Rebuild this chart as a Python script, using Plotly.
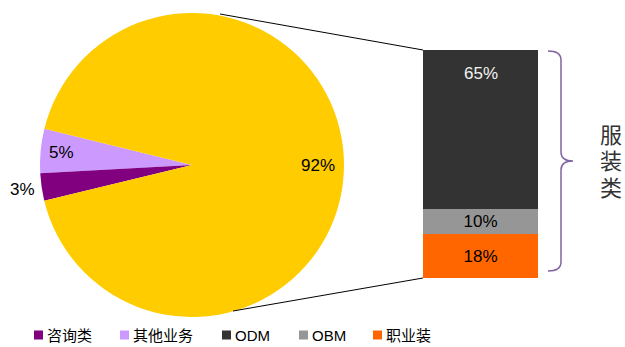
import math
import plotly.graph_objects as go

W, H = 625, 347

# ---- data ----
pie_labels = ['其他业务', '咨询类', '服装类']
pie_values = [4.7, 2.9, 92.4]
pie_text = ['5%', '3%', '92%']
pie_colors = ['#CC99FF', '#800080', '#FFCC00']

bar_labels = ['职业装', 'OBM', 'ODM']
bar_values = [18, 10, 65]
bar_text = ['18%', '10%', '65%']
bar_colors = ['#FF6600', '#969696', '#333333']
bar_text_colors = ['#000000', '#000000', '#F2F2F2']

legend_labels = ['咨询类', '其他业务', 'ODM', 'OBM', '职业装']
legend_colors = ['#800080', '#CC99FF', '#333333', '#969696', '#FF6600']

brace_label = '服装类'

FONT = 'Liberation Sans, Arial, Noto Sans CJK SC'

# ---- geometry (pixels) ----
cx, cy, R = 192, 165, 152
start_angle = -76.2   # where the first slice begins (deg, clockwise from 12 o'clock)
bar_x0, bar_x1, bar_top, bar_bot = 423, 538, 50, 278

tot = sum(pie_values)
first_span = pie_values[0] / tot * 360
# plotly (counterclockwise) places the first slice clockwise of `rotation`
plotly_rotation = start_angle - first_span

fig = go.Figure()

fig.add_trace(go.Pie(
    labels=pie_labels, values=pie_values, sort=False,
    direction='counterclockwise', rotation=plotly_rotation,
    marker=dict(colors=pie_colors, line=dict(width=0)),
    textinfo='none', hoverinfo='label+percent', showlegend=False,
    domain=dict(x=[(cx - R) / W, (cx + R) / W],
                y=[(H - cy - R) / H, (H - cy + R) / H]),
))

total_bar = sum(bar_values)
for lab, v, t, c, tc in zip(bar_labels, bar_values, bar_text, bar_colors, bar_text_colors):
    fig.add_trace(go.Bar(
        x=[0], y=[v], width=1, name=lab, marker=dict(color=c, line=dict(width=0)),
        text=[t] if lab != 'ODM' else None,
        textposition='inside', insidetextanchor='middle', constraintext='none',
        textfont=dict(family=FONT, size=17, color=tc),
        xaxis='x2', yaxis='y2', showlegend=False,
    ))

# overlay pixel axis for decorations
fig.add_trace(go.Scatter(x=[0], y=[0], mode='markers', marker=dict(opacity=0),
                         xaxis='x3', yaxis='y3', showlegend=False, hoverinfo='skip'))

annotations = []
shapes = []

# pie labels from slice mid-angles
radius_factor = [0.865, 1.13, 0.83]
a = start_angle
for v, t, rf in zip(pie_values, pie_text, radius_factor):
    span = v / tot * 360
    mid = math.radians(a - span / 2)
    a -= span
    px = cx + rf * R * math.sin(mid)
    py = cy - rf * R * math.cos(mid)
    annotations.append(dict(x=px, y=py, xref='x3', yref='y3', text=t, showarrow=False,
                            font=dict(family=FONT, size=17, color='#000000')))

# ODM label near top of bar
px_per_unit = (bar_bot - bar_top) / total_bar
annotations.append(dict(x=0, y=total_bar - 23 / px_per_unit, xref='x2', yref='y2',
                        text=bar_text[2], showarrow=False,
                        font=dict(family=FONT, size=17, color=bar_text_colors[2])))

# connector lines
shapes.append(dict(type='line', xref='x3', yref='y3', x0=220, y0=14, x1=bar_x0, y1=bar_top,
                   line=dict(color='#000000', width=1)))
shapes.append(dict(type='line', xref='x3', yref='y3', x0=233, y0=311, x1=bar_x0, y1=bar_bot,
                   line=dict(color='#000000', width=1)))

# brace
shapes.append(dict(type='path', xref='x3', yref='y3',
                   path='M 548,51 Q 561,51 561,60 L 561,152 Q 561,161 573,161 '
                        'Q 561,161 561,170 L 561,262 Q 561,271 548,271',
                   line=dict(color='#8064A2', width=1.5)))
for ch, yy in zip(brace_label, [135, 161.5, 188]):
    annotations.append(dict(x=611, y=yy, xref='x3', yref='y3', text=ch, showarrow=False,
                            font=dict(family=FONT, size=22, color='#333333')))

# legend
leg_x = [34, 120, 222, 299, 373]
leg_y = 335
for lab, col, lx in zip(legend_labels, legend_colors, leg_x):
    shapes.append(dict(type='rect', xref='x3', yref='y3', x0=lx, x1=lx + 9,
                       y0=leg_y - 4.5, y1=leg_y + 4.5, fillcolor=col, line=dict(width=0)))
    annotations.append(dict(x=lx + 11, y=leg_y, xref='x3', yref='y3', text=lab,
                            showarrow=False, xanchor='left',
                            font=dict(family=FONT, size=15, color='#000000')))

hidden = dict(visible=False, showgrid=False, zeroline=False, fixedrange=True)
fig.update_layout(
    width=W, height=H, margin=dict(l=0, r=0, t=0, b=0),
    paper_bgcolor='white', plot_bgcolor='rgba(0,0,0,0)',
    barmode='stack', bargap=0,
    xaxis2=dict(domain=[bar_x0 / W, bar_x1 / W], range=[-0.5, 0.5], anchor='y2', **hidden),
    yaxis2=dict(domain=[(H - bar_bot) / H, (H - bar_top) / H], range=[0, total_bar],
                anchor='x2', **hidden),
    xaxis3=dict(domain=[0, 1], range=[0, W], anchor='y3', **hidden),
    yaxis3=dict(domain=[0, 1], range=[H, 0], anchor='x3', **hidden),
    xaxis=dict(visible=False), yaxis=dict(visible=False),
    annotations=annotations, shapes=shapes,
)

fig.write_html('out.html')
